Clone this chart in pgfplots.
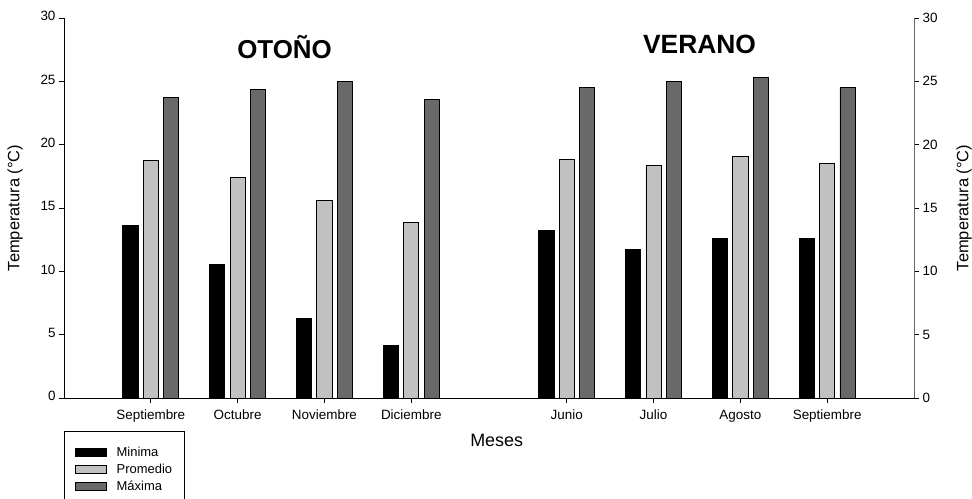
\documentclass[border=0pt]{standalone}
\usepackage{fontspec}
\setmainfont{Liberation Sans}
\usepackage{pgfplots}
\pgfplotsset{compat=1.18}

\definecolor{promedio}{RGB}{192,194,192}
\definecolor{maxima}{RGB}{104,106,104}

% Monthly temperatures (°C): x position, minimum, mean, maximum
\pgfplotstableread{
x     mn     pr     mx
0     13.63  18.72  23.73
1     10.55  17.40  24.34
2      6.25  15.63  25.02
3      4.14  13.84  23.55
4.79  13.24  18.80  24.50
5.79  11.73  18.35  25.02
6.79  12.63  19.04  25.30
7.79  12.63  18.51  24.50
}\temps

\pgfplotsset{
  tempaxis/.style={
    at={(64bp,101bp)}, anchor=south west,
    width=850bp, height=380bp, scale only axis,
    xmin=-1, xmax=8.79, ymin=0, ymax=30,
    ytick={0,5,...,30},
    tick align=outside, major tick length=5bp,
    axis line style={-, line width=0.8bp},
    every tick/.style={line width=0.8bp, black},
    tick label style={font=\fontsize{13.5}{15}\selectfont},
    /pgf/number format/assume math mode=true,
    label style={font=\fontsize{16.5}{19}\selectfont},
  },
}

\begin{document}
\begin{tikzpicture}
\useasboundingbox (0,0) rectangle (972bp,499bp);

\begin{axis}[
  tempaxis,
  axis x line*=bottom, axis y line*=left,
  xtick={0,1,2,3,4.79,5.79,6.79,7.79},
  xticklabels={Septiembre,Octubre,Noviembre,Diciembre,Junio,Julio,Agosto,Septiembre},
  typeset ticklabels with strut,
  xticklabel style={yshift=-3bp},
  xlabel={Meses},
  xlabel style={font=\fontsize{18}{21}\selectfont, at={(axis description cs:0.509,-0.1105)}, anchor=center},
  ylabel={Temperatura (°C)},
  ylabel style={at={(axis description cs:-0.0576,0.5)}, anchor=center},
  ybar, bar width=0.175,
  legend image code/.code={\draw[#1, draw=black] (0bp,-4bp) rectangle (31bp,4bp);},
  legend style={at={(rel axis cs:0,0)}, anchor=north west, yshift=-33bp,
    draw=black, line width=0.8bp, font=\fontsize{13}{15}\selectfont,
    inner xsep=11bp, inner ysep=14bp, row sep=3bp,
    nodes={inner sep=1.5bp},
    /tikz/every odd column/.append style={column sep=8bp}},
  legend cell align=left,
  clip=false,
]
\addplot[fill=black, draw=black, line width=0.8bp, bar shift=-0.235] table[x=x, y=mn] {\temps};
\addplot[fill=promedio, draw=black, line width=0.8bp, bar shift=0] table[x=x, y=pr] {\temps};
\addplot[fill=maxima, draw=black, line width=0.8bp, bar shift=0.235] table[x=x, y=mx] {\temps};
\legend{Minima, Promedio, Máxima}

\node[font=\bfseries\fontsize{26}{31}\selectfont] at (axis cs:1.54,27.7) {OTOÑO};
\node[font=\bfseries\fontsize{26.5}{31}\selectfont] at (axis cs:6.32,27.95) {VERANO};
\end{axis}

% Right-hand temperature scale
\begin{axis}[
  tempaxis,
  axis x line=none, axis y line*=right,
  axis line style={gray!80!black},
  ylabel={Temperatura (°C)},
  ylabel style={at={(axis description cs:1.0589,0.5)}, anchor=center, rotate=0},
]
\addplot[draw=none] coordinates {(0,0)};
\end{axis}
\end{tikzpicture}
\end{document}
